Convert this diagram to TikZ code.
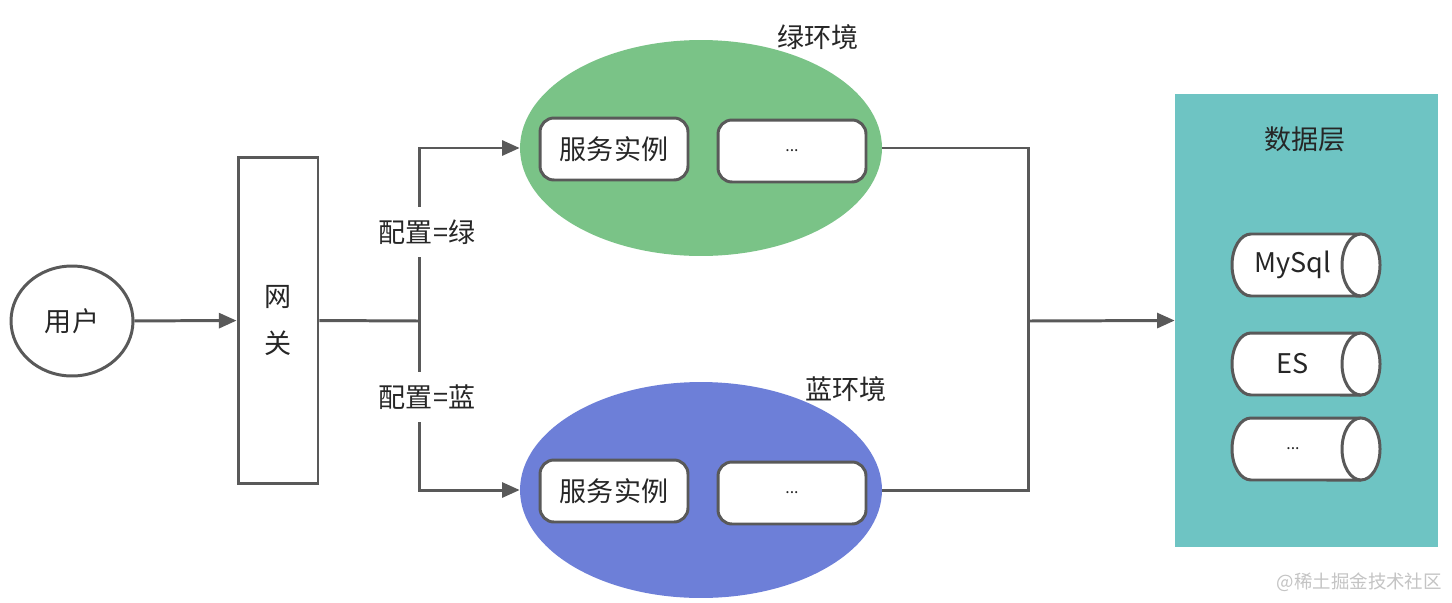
\documentclass[tikz,border=0pt]{standalone}
\usepackage{fontspec}
\setmainfont{Noto Sans CJK SC}
\usepackage{tikz}
\usetikzlibrary{arrows.meta,positioning,shapes.geometric}
\definecolor{linea}{HTML}{595959}
\definecolor{verde}{HTML}{7AC387}
\definecolor{azul}{HTML}{6D7FD8}
\definecolor{datos}{HTML}{6EC4C3}
\definecolor{marca}{HTML}{C4C4C4}
\tikzset{
  caja/.style={draw=linea,line width=1.7pt,fill=white,rounded corners=0.28cm,
               minimum width=2.96cm,minimum height=1.24cm,inner sep=0pt},
  entorno/.style={ellipse,minimum width=7.24cm,minimum height=4.32cm,inner sep=0pt},
  bd/.style={draw=linea,line width=1.7pt,fill=white},
  conector/.style={draw=linea,line width=1.7pt},
  flecha/.style={conector,-{Triangle[length=10pt,width=8.5pt]}},
  etiqueta/.style={fill=white,inner xsep=2pt,inner ysep=7pt}
}
\begin{document}
\begin{tikzpicture}[x=0.02cm,y=-0.02cm,font=\fontsize{15.4}{18}\selectfont,text=black!85]
  \fill[white] (0,0) rectangle (1452,602);
  \useasboundingbox (0,0) rectangle (1452,602);
  % usuario y pasarela
  \node[ellipse,draw=linea,line width=1.7pt,minimum width=2.44cm,minimum height=2.2cm,
        inner sep=0pt] (user) at (72,321) {用户};
  \node[draw=linea,line width=1.7pt,minimum width=1.6cm,minimum height=6.54cm,inner sep=0pt,
        align=center,font=\fontsize{15.4}{27}\selectfont] (gw) at (278,320.5) {网\\关};
  \draw[flecha] (user) -- (gw);
  % entorno verde
  \node[entorno,fill=verde] (green) at (701,148) {};
  \node[caja] (gInst) at (614,149) {服务实例};
  \node[caja,font=\small] (gMore) at (792,151) {...};
  \node at (818,37) (gLbl) {绿环境};
  % entorno azul
  \node[entorno,fill=azul] (blue) at (701,490) {};
  \node[caja] (bInst) at (614,491) {服务实例};
  \node[caja,font=\small] (bMore) at (792,493) {...};
  \node at (846,389) (bLbl) {蓝环境};
  % capa de datos
  \node[fill=datos,minimum width=5.26cm,minimum height=9.06cm,inner sep=0pt]
        (data) at (1306.5,320.5) {};
  \node at (1305,139) (dLbl) {数据层};
  \foreach \n/\t/\y in {mysql/MySql/265,es/ES/364,more/{\small .{}.{}.}/449}{
    \draw[bd] (1361,\y-31) -- (1251,\y-31)
      arc[start angle=90,end angle=270,x radius=0.38cm,y radius=0.62cm] -- (1361,\y+31);
    \draw[bd] (1361,\y) ellipse[x radius=0.38cm,y radius=0.62cm];
    \node (\n) at (1293,\y) {\t};
  }
  % reparto por configuracion
  \coordinate (split) at (419,321);
  \draw[conector] (gw.east) -- (split);
  \draw[flecha] (split) |- (green.west);
  \draw[flecha] (split) |- (blue.west);
  \node[etiqueta] (cfgG) at (427,232) {配置=绿};
  \node[etiqueta] (cfgB) at (427,397) {配置=蓝};
  % union hacia los datos
  \coordinate (merge) at (1028,321);
  \draw[conector] (green.east) -| (merge) |- (blue.east);
  \draw[flecha] (merge) -- (data.west);
  \node[text=marca,font=\fontsize{10.5}{12}\selectfont,anchor=east] (wm) at (1448,582)
        {@稀土掘金技术社区};
\end{tikzpicture}
\end{document}
